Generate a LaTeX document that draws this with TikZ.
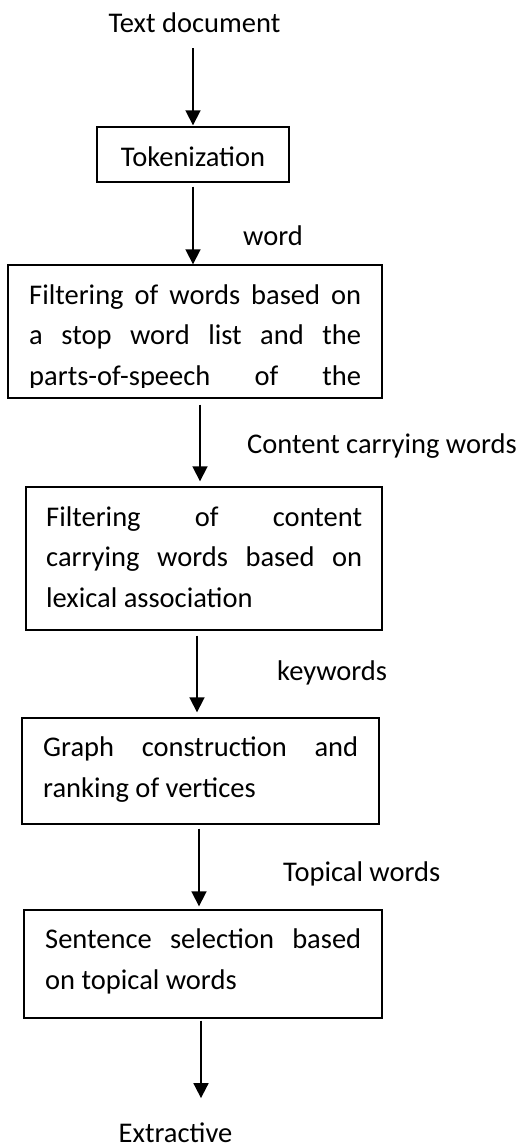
\documentclass[tikz,border=0pt]{standalone}
\usepackage{fontspec}
\setmainfont{Carlito}
\usetikzlibrary{arrows.meta}
\newcommand{\jline}[2]{\makebox[#1][s]{#2}}
\begin{document}
\begin{tikzpicture}[x=1pt,y=-1pt,
  every node/.style={font=\fontsize{28.5}{40.5}\selectfont},
  stepbox/.style={draw, line width=1.4pt, inner sep=0pt, rectangle},
  txt/.style={inner sep=0pt, anchor=base west},
  ctxt/.style={inner sep=0pt, anchor=base},
  arr/.style={line width=1.8pt, -{Triangle[length=15pt,width=15pt]}}]
\clip (0,0) rectangle (532,1146);

% process boxes
\node[stepbox, minimum width=192pt, minimum height=55pt] (tok) at (193,154.5) {};
\node[stepbox, minimum width=374pt, minimum height=133pt] (filt) at (195,331.5) {};
\node[stepbox, minimum width=356pt, minimum height=143pt] (lex) at (204,558.5) {};
\node[stepbox, minimum width=357pt, minimum height=106pt] (graph) at (200.5,771) {};
\node[stepbox, minimum width=358pt, minimum height=108pt] (sent) at (203,964) {};

% input / output texts
\node[ctxt] (doc) at (194.5,32) {Text document};
\node[ctxt] (toktxt) at (193,166) {Tokenization};
\node[ctxt] (ext) at (175.5,1142) {Extractive};

% box texts
\begin{scope}
  \clip (9,266) rectangle (381,387);
  \node[txt] (f1) at (29,304) {\jline{332pt}{Filtering of words based on}};
  \node[txt] (f2) at (29,344) {\jline{332pt}{a stop word list and the}};
  \node[txt] (f3) at (29,385) {\jline{332pt}{parts-of-speech of the}};
\end{scope}
\node[txt] (l1) at (46,526) {\jline{316pt}{Filtering of content}};
\node[txt] (l2) at (46,566) {\jline{316pt}{carrying words based on}};
\node[txt] (l3) at (46,607) {lexical association};
\node[txt] (g1) at (43,756) {\jline{315pt}{Graph construction and}};
\node[txt] (g2) at (43,797) {ranking of vertices};
\node[txt] (s1) at (45,948) {\jline{316pt}{Sentence selection based}};
\node[txt] (s2) at (45,989) {on topical words};

% connector labels
\node[txt] (lw) at (243,245) {word};
\node[txt] (lc) at (247,453) {Content carrying words};
\node[txt] (lk) at (277,680) {keywords};
\node[txt] (lt) at (283,881) {Topical words};

% connectors
\draw[arr, shorten <=16pt, shorten >=1pt] ([xshift=-1.5pt]doc.south) -- ([xshift=-1.5pt]doc.south |- tok.north);
\draw[arr, shorten <=4pt] (tok.south) -- (tok.south |- filt.north);
\draw[arr, shorten <=6pt, shorten >=5pt] ([xshift=5pt]filt.south) -- ([xshift=-4pt]lex.north);
\draw[arr, shorten <=5pt, shorten >=5pt] ([xshift=-7pt]lex.south) -- ([xshift=-3.5pt]graph.north);
\draw[arr, shorten <=4pt, shorten >=3pt] ([xshift=-1.5pt]graph.south) -- ([xshift=-4pt]sent.north);
\draw[arr, shorten <=2pt, shorten >=24pt] ([xshift=-2pt]sent.south) -- ([xshift=-2pt]sent.south |- ext.north);
\end{tikzpicture}
\end{document}
